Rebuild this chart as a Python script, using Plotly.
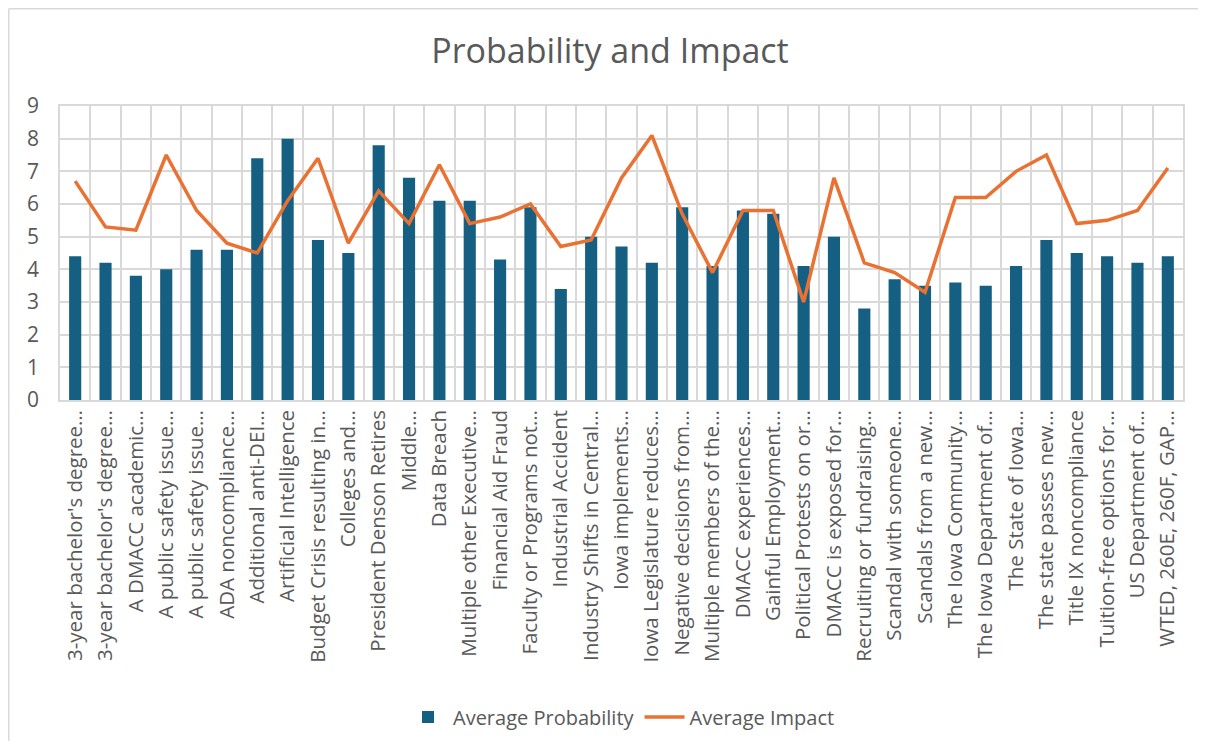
import plotly.graph_objects as go

categories = [
    "3-year bachelor's degree…", "3-year bachelor's degree…", "A DMACC academic…",
    "A public safety issue…", "A public safety issue…", "ADA noncompliance…",
    "Additional anti-DEI…", "Artificial Intelligence", "Budget Crisis resulting in…",
    "Colleges and…", "President Denson Retires", "Middle…", "Data Breach",
    "Multiple other Executive…", "Financial Aid Fraud", "Faculty or Programs not…",
    "Industrial Accident", "Industry Shifts in Central…", "Iowa implements…",
    "Iowa Legislature reduces…", "Negative decisions from…", "Multiple members of the…",
    "DMACC experiences…", "Gainful Employment…", "Political Protests on or…",
    "DMACC is exposed for…", "Recruiting or fundraising…", "Scandal with someone…",
    "Scandals from a new…", "The Iowa Community…", "The Iowa Department of…",
    "The State of Iowa…", "The state passes new…", "Title IX noncompliance",
    "Tuition-free options for…", "US Department of…", "WTED, 260E, 260F, GAP…",
]

avg_probability = [4.4, 4.2, 3.8, 4.0, 4.6, 4.6, 7.4, 8.0, 4.9, 4.5, 7.8, 6.8, 6.1,
                   6.1, 4.3, 5.9, 3.4, 5.0, 4.7, 4.2, 5.9, 4.1, 5.8, 5.7, 4.1,
                   5.0, 2.8, 3.7, 3.5, 3.6, 3.5, 4.1, 4.9, 4.5, 4.4, 4.2, 4.4]

avg_impact = [6.7, 5.3, 5.2, 7.5, 5.8, 4.8, 4.5, 6.1, 7.4, 4.8, 6.4, 5.4, 7.2,
              5.4, 5.6, 6.0, 4.7, 4.9, 6.8, 8.1, 5.7, 3.9, 5.8, 5.8, 3.0,
              6.8, 4.2, 3.9, 3.3, 6.2, 6.2, 7.0, 7.5, 5.4, 5.5, 5.8, 7.1]

y_ticks = [0, 1, 2, 3, 4, 5, 6, 7, 8, 9]

idx = list(range(len(categories)))
boundaries = [i - 0.5 for i in range(len(categories) + 1)]

FONT = "Open Sans"
GREY = "#595959"
GRID = "#d9d9d9"

# page body adds an 8px margin; keep the figure inside the window (no scrollbars)
W, H = 1190, 733
L, T, PW, PH = 52, 98, 1123, 294

fig = go.Figure()
fig.add_trace(go.Bar(
    x=idx, y=avg_probability, name="Average Probability",
    marker=dict(color="#156082", line=dict(width=0)), width=0.4,
))
fig.add_trace(go.Scatter(
    x=idx, y=avg_impact, name="Average Impact", mode="lines",
    line=dict(color="#E97132", width=3.5),
))

px_x = lambda p: (p - L) / PW
px_y = lambda p: (T + PH - p) / PH

fig.update_layout(
    width=W, height=H,
    paper_bgcolor="white", plot_bgcolor="white",
    margin=dict(l=L, r=W - L - PW, t=T, b=H - T - PH, autoexpand=False),
    font=dict(family=FONT, color=GREY, size=20),
    title=dict(text="Probability and Impact", x=602 / W, xref="container",
               xanchor="center", y=1 - 43 / H, yanchor="middle",
               font=dict(family=FONT, size=34, color=GREY)),
    showlegend=True,
    legend=dict(orientation="h", x=0.5, xanchor="center", y=px_y(709),
                yanchor="middle", font=dict(size=20, color=GREY),
                itemwidth=40, traceorder="normal"),
    xaxis=dict(
        range=[-0.5, len(categories) - 0.5],
        tickmode="array", tickvals=idx, ticktext=categories,
        tickangle=-90, tickfont=dict(size=20.5, color=GREY),
        showgrid=False, zeroline=False, ticks="",
        minor=dict(tickmode="array", tickvals=boundaries, showgrid=True,
                   gridcolor=GRID, gridwidth=1.5, ticks=""),
        showline=True, mirror=True, linecolor=GRID, linewidth=1.5,
    ),
    yaxis=dict(
        range=[0, 9], tickmode="array", tickvals=y_ticks,
        tickfont=dict(size=21, color=GREY),
        showgrid=True, gridcolor=GRID, gridwidth=1.5, zeroline=False,
        showline=True, mirror=True, linecolor=GRID, linewidth=1.5,
        ticks="", ticklabelstandoff=15,
    ),
    shapes=[
        dict(type="line", xref="paper", yref="paper",
             x0=px_x(0.75), x1=px_x(W), y0=px_y(0.75), y1=px_y(0.75),
             line=dict(color=GRID, width=1.5), layer="below"),
        dict(type="line", xref="paper", yref="paper",
             x0=px_x(0.75), x1=px_x(0.75), y0=px_y(0.75), y1=px_y(H),
             line=dict(color=GRID, width=1.5), layer="below"),
    ],
)

fig.write_html("out.html")
